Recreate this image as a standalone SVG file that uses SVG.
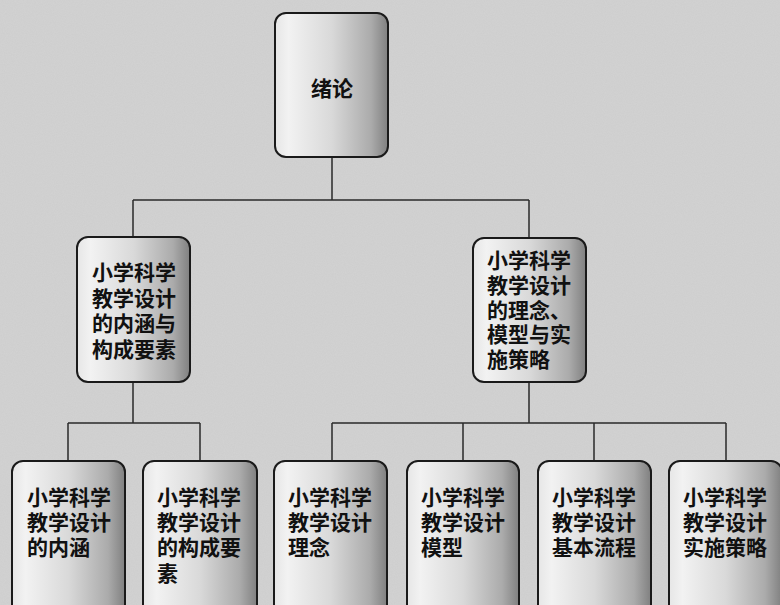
<svg xmlns="http://www.w3.org/2000/svg" width="780" height="605" viewBox="0 0 780 605">
  <defs>
    <linearGradient id="boxGrad" x1="0" y1="0" x2="1" y2="0">
      <stop offset="0" stop-color="#e6e6e6"/>
      <stop offset="0.12" stop-color="#f2f2f2"/>
      <stop offset="0.5" stop-color="#d9d9d9"/>
      <stop offset="0.85" stop-color="#ababab"/>
      <stop offset="1" stop-color="#808080"/>
    </linearGradient>
    <filter id="noise" x="0" y="0" width="100%" height="100%">
      <feTurbulence type="fractalNoise" baseFrequency="0.9" numOctaves="2" seed="3" result="t"/>
      <feColorMatrix type="matrix" values="0 0 0 0 0.78  0 0 0 0 0.78  0 0 0 0 0.78  0 0 0 0.25 0"/>
    </filter>
  </defs>
  <style>
    .box { fill: url(#boxGrad); stroke: #1a1a1a; stroke-width: 2; }
    .lbl { font-family: "Liberation Sans", "Noto Sans CJK SC", sans-serif; font-size: 21px; font-weight: bold; fill: #111; }
    .conn { fill: none; stroke: #2a2a2a; stroke-width: 1.5; }
  </style>
  <rect x="0" y="0" width="780" height="605" fill="#cdcdcd"/>
  <rect x="0" y="0" width="780" height="605" filter="url(#noise)"/>

  <g id="connectors">
    <path class="conn" d="M332 157 V200 M133 200 H529 M133 200 V237 M529 200 V238"/>
    <path class="conn" d="M133 382 V423 M68 423 H200 M68 423 V461 M200 423 V461"/>
    <path class="conn" d="M529 382 V423 M332 423 H726 M332 423 V461 M463 423 V461 M594 423 V461 M726 423 V461"/>
  </g>

  <g id="n0">
    <rect class="box" x="275" y="13" width="113" height="144" rx="11"/>
    <text class="lbl" x="332" y="96" text-anchor="middle" font-size="20">绪论</text>
  </g>

  <g id="n1">
    <rect class="box" x="77" y="237" width="113" height="145" rx="11"/>
    <text class="lbl"><tspan x="92" y="280">小学科学</tspan><tspan x="92" y="305.5">教学设计</tspan><tspan x="92" y="331">的内涵与</tspan><tspan x="92" y="356.5">构成要素</tspan></text>
  </g>

  <g id="n2">
    <rect class="box" x="473" y="238" width="113" height="144" rx="11"/>
    <text class="lbl"><tspan x="487" y="268">小学科学</tspan><tspan x="487" y="292.75">教学设计</tspan><tspan x="487" y="317.5">的理念、</tspan><tspan x="487" y="342.25">模型与实</tspan><tspan x="487" y="367">施策略</tspan></text>
  </g>

  <g id="n3">
    <rect class="box" x="12" y="461" width="113" height="160" rx="11"/>
    <text class="lbl"><tspan x="27" y="505">小学科学</tspan><tspan x="27" y="530">教学设计</tspan><tspan x="27" y="555">的内涵</tspan></text>
  </g>

  <g id="n4">
    <rect class="box" x="143" y="461" width="114" height="160" rx="11"/>
    <text class="lbl"><tspan x="157" y="505">小学科学</tspan><tspan x="157" y="530">教学设计</tspan><tspan x="157" y="555">的构成要</tspan><tspan x="157" y="581">素</tspan></text>
  </g>

  <g id="n5">
    <rect class="box" x="274" y="461" width="113" height="160" rx="11"/>
    <text class="lbl"><tspan x="288" y="505">小学科学</tspan><tspan x="288" y="530">教学设计</tspan><tspan x="288" y="555">理念</tspan></text>
  </g>

  <g id="n6">
    <rect class="box" x="407" y="461" width="112" height="160" rx="11"/>
    <text class="lbl"><tspan x="421" y="505">小学科学</tspan><tspan x="421" y="530">教学设计</tspan><tspan x="421" y="555">模型</tspan></text>
  </g>

  <g id="n7">
    <rect class="box" x="538" y="461" width="113" height="160" rx="11"/>
    <text class="lbl"><tspan x="552" y="505">小学科学</tspan><tspan x="552" y="530">教学设计</tspan><tspan x="552" y="555">基本流程</tspan></text>
  </g>

  <g id="n8">
    <rect class="box" x="669" y="461" width="113" height="160" rx="11"/>
    <text class="lbl"><tspan x="683" y="505">小学科学</tspan><tspan x="683" y="530">教学设计</tspan><tspan x="683" y="555">实施策略</tspan></text>
  </g>
</svg>
